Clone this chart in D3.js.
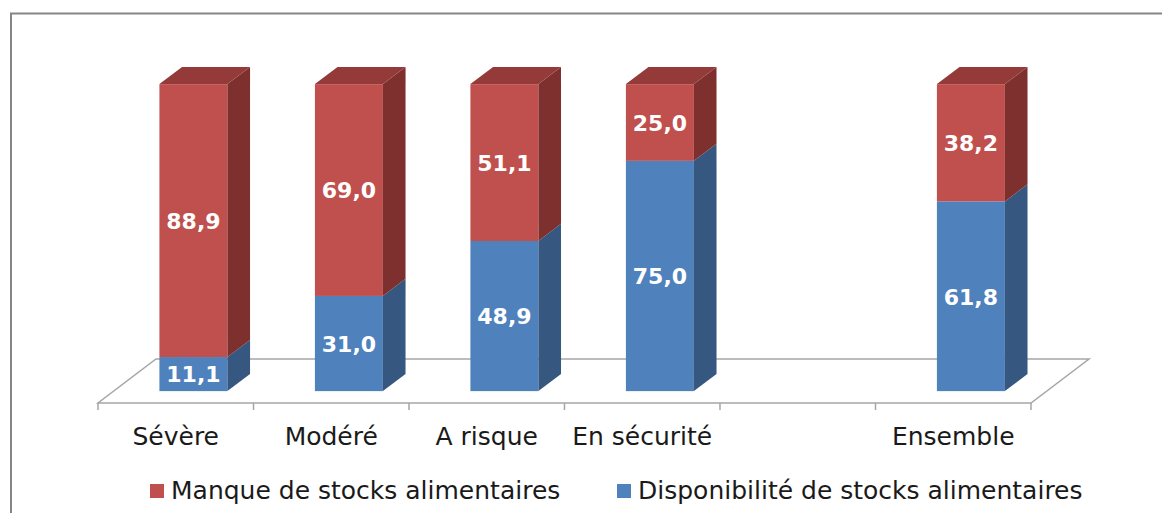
<!DOCTYPE html>
<html>
<head>
<meta charset="utf-8">
<script src="https://cdn.jsdelivr.net/npm/d3@7"></script>
<style>
  body { margin: 0; background: #fff; }
  svg { display: block; }
</style>
</head>
<body>
<div id="viz"></div>
<script>
// data
const categories = ['Sévère', 'Modéré', 'A risque', 'En sécurité', ' ', 'Ensemble'];
const disponibilite = [11.1, 31.0, 48.9, 75.0, null, 61.8];
const manque = [88.9, 69.0, 51.1, 25.0, null, 38.2];
const seriesLabels = ['Manque de stocks alimentaires', 'Disponibilité de stocks alimentaires'];

const width = 1162;
const height = 513;

// 3d projection of the floor
const floor = { left: 98, right: 1031, y: 403, dx: 58, dy: 44 };
const depthFront = 0.27;
const depthBack = 0.66;
const barShift = 2;

const colors = {
  manque: { front: '#C0504D', side: '#7D302E', top: '#943B39' },
  dispo: { front: '#4F81BD', side: '#36577F', top: '#3D6595' },
};

const rows = categories.map((c, i) => ({ cat: c, dispo: disponibilite[i], manque: manque[i] }));

const svg = d3.select('#viz')
  .append('svg')
  .attr('width', width)
  .attr('height', height);

// outer frame
svg.append('rect')
  .attr('x', 11).attr('y', 13.5)
  .attr('width', width).attr('height', height)
  .attr('fill', 'none')
  .attr('stroke', '#868686')
  .attr('stroke-width', 2);

const x = d3.scaleBand()
  .domain(categories)
  .range([floor.left, floor.right])
  .paddingInner(0.5627)
  .paddingOuter(0.2814);

const y = d3.scaleLinear()
  .domain([0, 100])
  .range([floor.y, floor.y - 307]);

// floor
svg.append('path')
  .attr('d', `M${floor.left},${floor.y} L${floor.right},${floor.y} L${floor.right + floor.dx},${floor.y - floor.dy} L${floor.left + floor.dx},${floor.y - floor.dy} Z`)
  .attr('fill', '#fff')
  .attr('stroke', '#A6A6A6')
  .attr('stroke-width', 1.5);

// ticks between categories
const step = x.step();
svg.append('g').selectAll('line')
  .data(d3.range(categories.length + 1))
  .join('line')
  .attr('x1', i => floor.left + i * step)
  .attr('x2', i => floor.left + i * step)
  .attr('y1', floor.y)
  .attr('y2', floor.y + 7)
  .attr('stroke', '#A6A6A6')
  .attr('stroke-width', 1.5);

const stack = d3.stack().keys(['dispo', 'manque']);
const stacked = stack(rows.filter(r => r.dispo != null));

const fx = depthFront * floor.dx + barShift, fy = depthFront * floor.dy;
const ddx = (depthBack - depthFront) * floor.dx, ddy = (depthBack - depthFront) * floor.dy;
const bw = x.bandwidth();

const bars = svg.append('g');
stacked.forEach(layer => {
  const col = colors[layer.key];
  layer.forEach(seg => {
    const x0 = x(seg.data.cat) + fx;
    const yTop = y(seg[1]) - fy;
    const yBot = y(seg[0]) - fy;
    bars.append('rect')
      .attr('x', x0).attr('y', yTop)
      .attr('width', bw).attr('height', yBot - yTop)
      .attr('fill', col.front);
    bars.append('path')
      .attr('d', `M${x0 + bw},${yTop} L${x0 + bw + ddx},${yTop - ddy} L${x0 + bw + ddx},${yBot - ddy} L${x0 + bw},${yBot} Z`)
      .attr('fill', col.side);
    if (seg[1] >= 100) {
      bars.append('path')
        .attr('d', `M${x0},${yTop} L${x0 + ddx},${yTop - ddy} L${x0 + bw + ddx},${yTop - ddy} L${x0 + bw},${yTop} Z`)
        .attr('fill', col.top);
    }
    bars.append('text')
      .attr('x', x0 + bw / 2)
      .attr('y', (yTop + yBot) / 2)
      .attr('dy', '0.38em')
      .attr('text-anchor', 'middle')
      .attr('fill', '#fff')
      .attr('font-family', 'DejaVu Sans')
      .attr('font-weight', 'bold')
      .attr('font-size', 22)
      .text(d3.format('.1f')(seg[1] - seg[0]).replace('.', ','));
  });
});

// category labels
svg.append('g').selectAll('text')
  .data(categories)
  .join('text')
  .attr('x', d => x(d) + bw / 2)
  .attr('y', 445)
  .attr('text-anchor', 'middle')
  .attr('fill', '#1a1a1a')
  .attr('font-family', 'DejaVu Sans')
  .attr('font-size', 25)
  .text(d => d.trim());

// legend
const legend = [
  { label: seriesLabels[0], color: colors.manque.front, x: 150 },
  { label: seriesLabels[1], color: colors.dispo.front, x: 617 },
];
const lg = svg.append('g').selectAll('g')
  .data(legend)
  .join('g')
  .attr('transform', d => `translate(${d.x},484)`);
lg.append('rect').attr('width', 14).attr('height', 14).attr('fill', d => d.color);
lg.append('text')
  .attr('x', 21).attr('y', 15)
  .attr('font-family', 'DejaVu Sans')
  .attr('font-size', 25)
  .attr('fill', '#1a1a1a')
  .text(d => d.label);
</script>
</body>
</html>
